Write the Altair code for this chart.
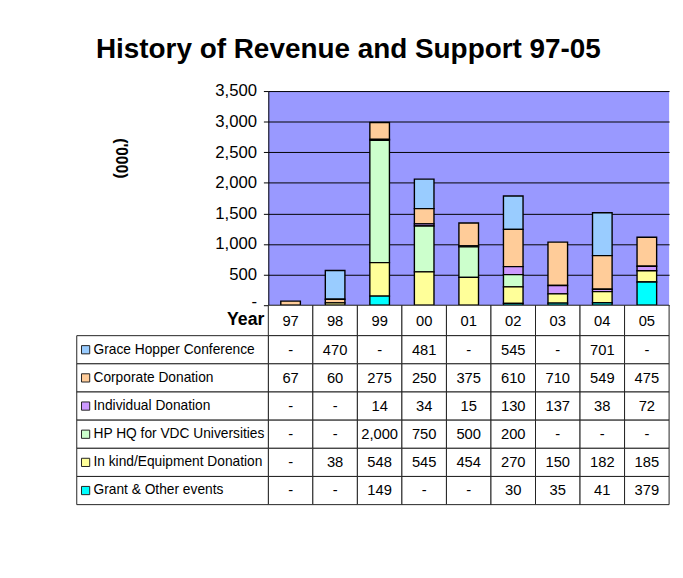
import altair as alt
import pandas as pd

years = ["97", "98", "99", "00", "01", "02", "03", "04", "05"]
series = [
    "Grace Hopper Conference",
    "Corporate Donation",
    "Individual Donation",
    "HP HQ for VDC Universities",
    "In kind/Equipment Donation",
    "Grant & Other events",
]
colors = ["#99CCFF", "#FFCC99", "#CC99FF", "#CCFFCC", "#FFFF99", "#00FFFF"]

grace = [0, 470, 0, 481, 0, 545, 0, 701, 0]
corporate = [67, 60, 275, 250, 375, 610, 710, 549, 475]
individual = [0, 0, 14, 34, 15, 130, 137, 38, 72]
hp_hq = [0, 0, 2000, 750, 500, 200, 0, 0, 0]
in_kind = [0, 38, 548, 545, 454, 270, 150, 182, 185]
grant = [0, 0, 149, 0, 0, 30, 35, 41, 379]

y_ticks = [0, 500, 1000, 1500, 2000, 2500, 3000, 3500]
title_text = "History of Revenue and Support 97-05"
y_title = "('000)"
row_header = "Year"

values = [grace, corporate, individual, hp_hq, in_kind, grant]
rows = []
for si, (name, vals) in enumerate(zip(series, values)):
    for yr, v in zip(years, vals):
        rows.append({
            "year": yr,
            "series": name,
            "value": v,
            "stack": len(series) - si,
            "text": "-" if v == 0 else f"{v:,}",
        })
df = pd.DataFrame(rows)

year_df = pd.DataFrame({"year": years, "series": row_header, "text": years})
header_df = pd.DataFrame({"series": [row_header]})
label_df = pd.DataFrame({"series": series})

FONT = "Liberation Sans"
W = 408
LINE = "#222"

# ---------------- bar chart ----------------
x_bar = alt.X("year:N", sort=years,
              scale=alt.Scale(domain=years, paddingInner=0.56, paddingOuter=0.28),
              axis=None)

bars = alt.Chart(df).transform_filter("datum.value > 0").mark_bar(
    stroke="black", strokeWidth=1.4
).encode(
    x=x_bar,
    y=alt.Y(
        "value:Q",
        stack="zero",
        scale=alt.Scale(domain=[0, 3500], nice=False),
        axis=alt.Axis(
            values=y_ticks,
            labelExpr="datum.value == 0 ? '-' : format(datum.value, ',')",
            labelOffset={"condition": {"test": "datum.value == 0", "value": -4}, "value": 0},
            title=y_title,
            titleAngle=90,
            titleX=-151,
            titleY=68,
            titleAlign="center",
            titleBaseline="middle",
            titleFont=FONT,
            titleFontSize=16,
            titleFontWeight="bold",
            titleColor="black",
            labelFont=FONT,
            labelFontSize=17,
            labelColor="black",
            labelPadding=7,
            tickSize=5,
            tickColor="black",
            domainColor="black",
            gridColor="black",
            gridWidth=1,
            gridOpacity=1,
        ),
    ),
    color=alt.Color("series:N", scale=alt.Scale(domain=series, range=colors), legend=None),
    order=alt.Order("stack:Q", sort="ascending"),
).properties(
    width=W, height=218,
    view=alt.ViewBackground(fill="#9999FF", stroke=None),
)

# ---------------- year row ----------------
x_tab = alt.X("year:N", sort=years,
              scale=alt.Scale(domain=years, paddingInner=0, paddingOuter=0),
              axis=None)

year_cells = alt.Chart(year_df).mark_rect(fill="white", stroke=LINE, strokeWidth=1).encode(
    x=x_tab, y=alt.value(0), y2=alt.value(31)
)
year_text = alt.Chart(year_df).mark_text(font=FONT, fontSize=15, color="black").encode(
    x=x_tab, y=alt.value(16), text="text:N"
)
header_text = alt.Chart(header_df).mark_text(
    font=FONT, fontSize=18, fontWeight="bold", align="right", color="black"
).encode(x=alt.value(-4), y=alt.value(15), text="series:N")

year_row = alt.layer(year_cells, year_text, header_text).properties(
    width=W, height=31, view=alt.ViewBackground(stroke=None)
)

# ---------------- data table ----------------
y_tab = alt.Y("series:N", sort=series,
              scale=alt.Scale(domain=series, paddingInner=0, paddingOuter=0),
              axis=None)

cells = alt.Chart(df).mark_rect(fill="white", stroke=LINE, strokeWidth=1).encode(
    x=x_tab, y=y_tab
)
cell_text = alt.Chart(df).mark_text(font=FONT, fontSize=15, color="black").encode(
    x=x_tab, y=y_tab, text="text:N"
)
label_cells = alt.Chart(label_df).mark_rect(fill="white", stroke=LINE, strokeWidth=1).encode(
    x=alt.value(-195), x2=alt.value(0), y=y_tab
)
squares = alt.Chart(label_df).mark_point(
    shape="square", size=70, filled=True, stroke=LINE, strokeWidth=1, opacity=1
).encode(
    x=alt.value(-186), y=y_tab,
    fill=alt.Fill("series:N", scale=alt.Scale(domain=series, range=colors), legend=None),
)
label_text = alt.Chart(label_df).mark_text(
    font=FONT, fontSize=14, align="left", color="black"
).encode(x=alt.value(-178), y=y_tab, text="series:N")

table = alt.layer(cells, cell_text, label_cells, squares, label_text).properties(
    width=W, height=172,
    view=alt.ViewBackground(stroke=None),
)

chart = alt.vconcat(bars, year_row, table, spacing=0, bounds="flush").properties(
    title=alt.TitleParams(
        title_text, font=FONT, fontSize=28.4, fontWeight="bold", color="black",
        anchor="middle", dx=-25, offset=18,
    ),
    padding={"left": 69, "top": 23, "right": 5, "bottom": 5},
).configure_view(stroke=None).configure(background="white")

chart.save("out.html", embed_options={"renderer": "svg", "actions": False})
